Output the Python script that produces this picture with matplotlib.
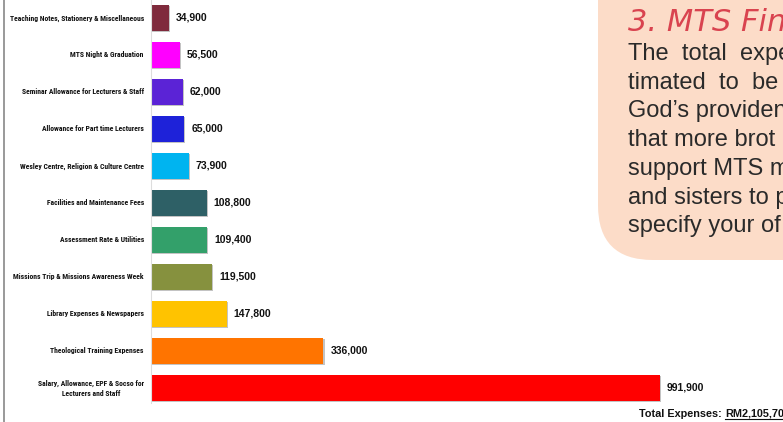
import matplotlib
matplotlib.use("Agg")
import matplotlib.pyplot as plt
import matplotlib.patheffects as pe
from matplotlib import font_manager
from matplotlib.patches import FancyBboxPatch
from matplotlib.lines import Line2D
from matplotlib.font_manager import FontProperties

categories = [
    "Teaching Notes, Stationery & Miscellaneous",
    "MTS Night & Graduation",
    "Seminar Allowance for Lecturers & Staff",
    "Allowance for Part time Lecturers",
    "Wesley Centre, Religion & Culture Centre",
    "Facilities and Maintenance Fees",
    "Assessment Rate & Utilities",
    "Missions Trip & Missions Awareness Week",
    "Library Expenses & Newspapers",
    "Theological Training Expenses",
    "Salary, Allowance, EPF & Socso for\nLecturers and Staff",
]
values = [34900, 56500, 62000, 65000, 73900, 108800, 109400, 119500, 147800, 336000, 991900]
colors = ["#7f2a3c", "#ff00ff", "#5b23d6", "#1e22d9", "#00b4f0", "#2e6066",
          "#33a06a", "#86913e", "#ffc300", "#ff7400", "#ff0000"]
total_prefix = "Total Expenses: "
total_label = "RM2,105,700"
box_title = "3. MTS Fin"
box_lines = ["The  total  expe",
             "timated  to  be",
             "God\u2019s providen",
             "that more brot",
             "support MTS m",
             "and sisters to p",
             "specify your of"]

# look for a narrow / condensed bold font
cand = None
for f in font_manager.fontManager.ttflist:
    n = (f.fname + " " + f.name).lower()
    if ("narrow" in n or "condensed" in n) and ("bold" in n or f.weight in (700, "bold")):
        if "semi" in n or "extra" in n or "light" in n or "italic" in n or "oblique" in n:
            continue
        cand = f.fname
        if "liberation" in n or "arial" in n:
            break
if cand:
    label_fp = FontProperties(fname=cand)
else:
    label_fp = FontProperties(family="Liberation Sans", weight="bold")

W, H = 783, 422
fig = plt.figure(figsize=(W / 100, H / 100), dpi=100)
fig.patch.set_facecolor("white")

ax = fig.add_axes([151 / W, 0, (W - 151) / W, 1])
ax.set_facecolor("none")
px_per_unit = (660 - 151) / 991900
xmax = (W - 151) / px_per_unit
ax.set_xlim(0, xmax)
spacing = 37.0
ax.set_ylim((H - 18) / spacing, -18 / spacing)

y = list(range(len(values)))
bars = ax.barh(y, values, height=26 / spacing, color=colors, zorder=3)
for b in bars:
    b.set_path_effects([pe.SimplePatchShadow(offset=(0.8, -1.0), shadow_rgbFace="#888888", alpha=0.5),
                        pe.Normal()])

for yi, v in zip(y, values):
    ax.annotate(f"{v:,}", (v, yi), xytext=(5, 0), textcoords="offset points",
                ha="left", va="center", fontsize=7.5, fontweight="bold",
                family="Liberation Sans", color="#111111")

labels = []
for yi, c in zip(y, categories):
    t = ax.annotate(c, (0, yi), xytext=(-5.2, 0), textcoords="offset points",
                    ha="right", va="center", ma="center", fontproperties=label_fp,
                    fontsize=5.6, color="#111111", annotation_clip=False, linespacing=1.5)
    labels.append(t)

fig.canvas.draw()
widest = max(t.get_window_extent().width for t in labels)
target = 136.0
if widest > target:
    fs = 5.6 * target / widest
    for t in labels:
        t.set_fontsize(fs)

for s in ax.spines.values():
    s.set_visible(False)
ax.set_xticks([])
ax.set_yticks([])

fig.add_artist(Line2D([151 / W, 151 / W], [(H - 403) / H, 1], transform=fig.transFigure,
                      color="#dddddd", lw=0.8))
fig.add_artist(Line2D([3.5 / W, 3.5 / W], [0, 1], transform=fig.transFigure,
                      color="#888888", lw=1.2))

box = FancyBboxPatch((598 / W, (H - 260) / H), 400 / W, 400 / H,
                     boxstyle="round,pad=0,rounding_size=0.07",
                     transform=fig.transFigure, facecolor="#fcdcc8", edgecolor="none",
                     mutation_aspect=W / H)
fig.add_artist(box)

fig.text(628 / W, 1 - 31 / H, box_title, fontsize=22, color="#d9434f",
         family="DejaVu Sans", style="italic", va="baseline", ha="left")
for i, line in enumerate(box_lines):
    fig.text(628 / W, 1 - (60 + 28.7 * i) / H, line, fontsize=17, color="#2a2a2a",
             family="Liberation Sans", va="baseline", ha="left")

t1 = fig.text(639 / W, 1 - 417 / H, total_prefix, fontsize=7.8, fontweight="bold",
              family="Liberation Sans", color="#111111", va="baseline")
fig.canvas.draw()
bb = t1.get_window_extent()
t2 = fig.text(bb.x1 / W, 1 - 417 / H, total_label, fontsize=7.8, fontweight="bold",
              family="Liberation Sans", color="#111111", va="baseline")
fig.canvas.draw()
bb2 = t2.get_window_extent()
fig.add_artist(Line2D([bb2.x0 / W, bb2.x1 / W], [(H - 419) / H, (H - 419) / H],
                      transform=fig.transFigure, color="#111111", lw=0.8))

fig.savefig("out.png", dpi=100)
